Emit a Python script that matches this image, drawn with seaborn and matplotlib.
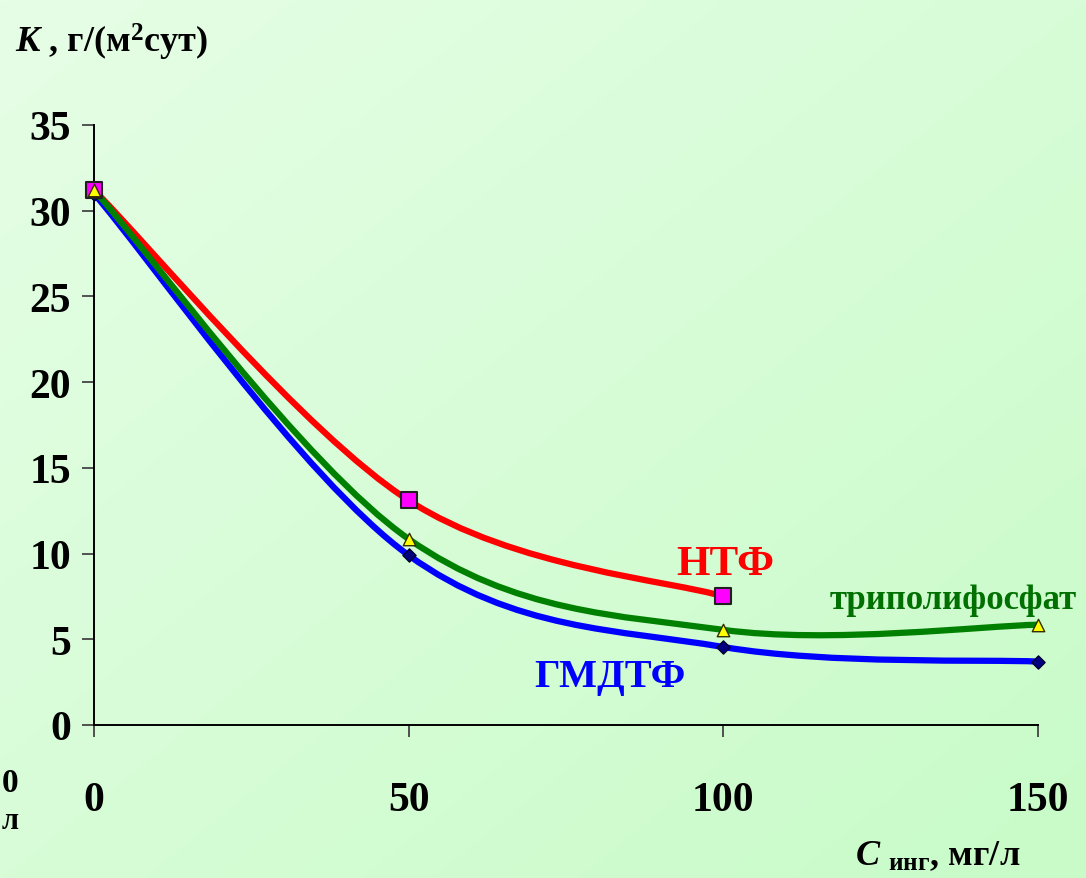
import numpy as np
import pandas as pd
import matplotlib
matplotlib.use("Agg")
import matplotlib.pyplot as plt
from matplotlib.path import Path
from matplotlib.patches import PathPatch
import seaborn as sns

# ---- data ----
conc_ntf = [0, 50, 100]
k_ntf = [31.2, 13.1, 7.5]
conc_tri = [0, 50, 100, 150]
k_tri = [31.2, 10.85, 5.55, 5.85]
conc_gm = [0, 50, 100, 150]
k_gm = [31.0, 9.9, 4.55, 3.7]
x_ticks = [0, 50, 100, 150]
y_ticks = [0, 5, 10, 15, 20, 25, 30, 35]

sns.set_theme(style="white")
plt.rcParams['font.family'] = ['Liberation Serif', 'DejaVu Serif']
plt.rcParams['mathtext.fontset'] = 'custom'
plt.rcParams['mathtext.rm'] = 'Liberation Serif:bold'
plt.rcParams['mathtext.bf'] = 'Liberation Serif:bold'
plt.rcParams['mathtext.it'] = 'Liberation Serif:italic:bold'

W, H = 1086, 879
fig = plt.figure(figsize=(W / 100, H / 100), dpi=100)

# gradient background
bg = fig.add_axes([0, 0, 1, 1], zorder=-10)
gx, gy = np.meshgrid(np.linspace(0, 1, 200), np.linspace(0, 1, 200))
t = (gx + gy) / 2
c0 = np.array([0xe6, 0xfe, 0xe6]) / 255
c1 = np.array([0xc8, 0xfb, 0xc8]) / 255
img = c0[None, None, :] * (1 - t[..., None]) + c1[None, None, :] * t[..., None]
bg.imshow(img, aspect='auto', extent=[0, 1, 0, 1], origin='upper')
bg.axis('off')

ax = fig.add_axes([94 / W, 153 / H, 944 / W, 600 / H])
ax.set_facecolor('none')


def smooth_path(xs, ys):
    pts = np.column_stack([xs, ys]).astype(float)
    n = len(pts)
    verts = [pts[0]]
    codes = [Path.MOVETO]
    for i in range(n - 1):
        p_prev = pts[i - 1] if i > 0 else pts[i]
        p0 = pts[i]
        p1 = pts[i + 1]
        p_next = pts[i + 2] if i + 2 < n else pts[i + 1]
        c1 = p0 + (p1 - p_prev) / 6.0
        c2 = p1 - (p_next - p0) / 6.0
        verts += [c1, c2, p1]
        codes += [Path.CURVE4] * 3
    return Path(verts, codes)


series = [
    (conc_gm, k_gm, '#0000ff', 2),
    (conc_ntf, k_ntf, '#ff0000', 3),
    (conc_tri, k_tri, '#008000', 4),
]
for xs, ys, col, z in series:
    ax.add_patch(PathPatch(smooth_path(xs, ys), fill=False, edgecolor=col,
                           lw=4.5, capstyle='round', joinstyle='round', zorder=z))

df_ntf = pd.DataFrame({'C': conc_ntf, 'K': k_ntf})
df_tri = pd.DataFrame({'C': conc_tri, 'K': k_tri})
df_gm = pd.DataFrame({'C': conc_gm, 'K': k_gm})

sns.scatterplot(data=df_gm, x='C', y='K', ax=ax, marker='D', s=45,
                color='#000080', edgecolor='#000030', linewidth=1.0, zorder=6)
sns.scatterplot(data=df_ntf, x='C', y='K', ax=ax, marker='s', s=130,
                color='#ff00ff', edgecolor='#202020', linewidth=1.5, zorder=7)
sns.scatterplot(data=df_tri, x='C', y='K', ax=ax, marker='^', s=80,
                color='#ffff00', edgecolor='#303000', linewidth=1.0, zorder=8)
for coll in ax.collections:
    coll.set_clip_on(False)

ax.set_xlim(0, 150)
ax.set_ylim(0, 35)
ax.set_xticks(x_ticks)
ax.set_yticks(y_ticks)
ax.set_xlabel('')
ax.set_ylabel('')
for s in ['top', 'right']:
    ax.spines[s].set_visible(False)
for s in ['left', 'bottom']:
    ax.spines[s].set_color('black')
    ax.spines[s].set_linewidth(1.4)
ax.tick_params(axis='both', direction='out', length=8.5, width=1.3,
               color='#444444', labelsize=30, labelcolor='black',
               bottom=True, left=True)
ax.tick_params(axis='y', pad=8)
ax.tick_params(axis='x', pad=32)
for lab in ax.get_xticklabels() + ax.get_yticklabels():
    lab.set_fontweight('bold')
    lab.set_fontfamily('Liberation Serif')

# series labels
ax.text(100.3, 9.4, 'НТФ', color='#ff0000', fontsize=31, fontweight='bold',
        ha='center', va='center')
ax.text(136.5, 7.3, 'триполифосфат', color='#007000', fontsize=25,
        fontweight='bold', ha='center', va='center')
ax.text(82, 2.8, 'ГМДТФ', color='#0000ff', fontsize=29, fontweight='bold',
        ha='center', va='center')

# axis titles
fig.text(15 / W, 1 - 42 / H, r'$\mathit{К}$ , г/(м$^{2}$сут)', fontsize=26,
         fontweight='bold', ha='left', va='center', color='black')
fig.text(1020 / W, 1 - 856 / H, r'$\mathit{С}$ $_{\mathrm{инг}}$, мг/л',
         fontsize=26, fontweight='bold', ha='right', va='center', color='black')

# fragments of neighbouring labels at the left edge
fig.text(2 / W, 1 - 784 / H, '0', fontsize=24, fontweight='bold',
         ha='left', va='center', color='black')
fig.text(2 / W, 1 - 822 / H, 'л', fontsize=22, fontweight='bold',
         ha='left', va='center', color='black')

fig.savefig('out.png', dpi=100)
